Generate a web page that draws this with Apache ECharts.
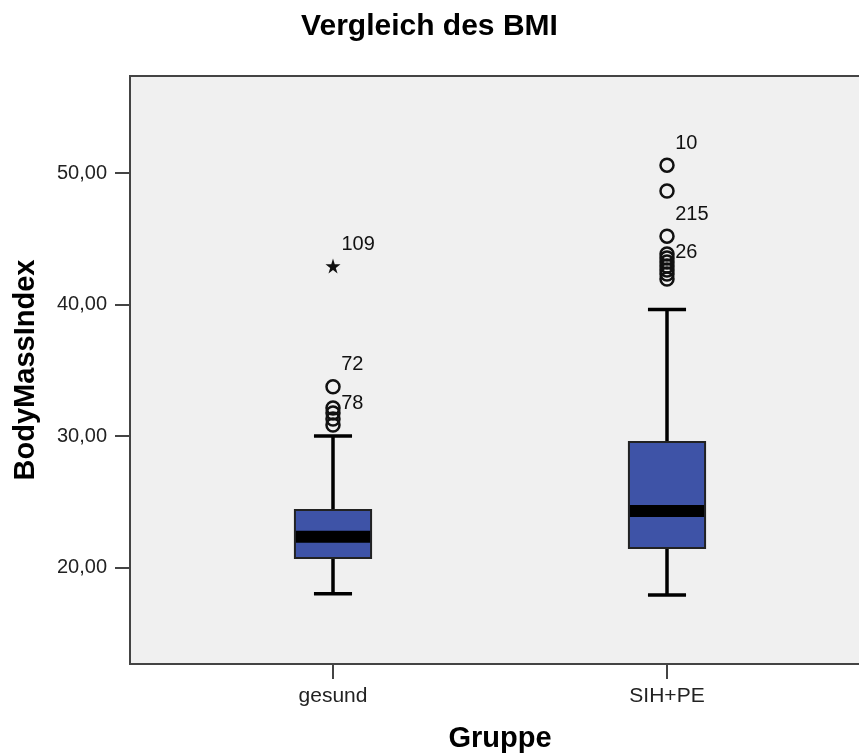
<!DOCTYPE html>
<html>
<head>
<meta charset="utf-8">
<title>Vergleich des BMI</title>
<script src="https://cdn.jsdelivr.net/npm/echarts@6/dist/echarts.min.js"></script>
<style>
  html, body { margin: 0; padding: 0; background: #fff; }
  #bmiChart { width: 859px; height: 754px; }
</style>
</head>
<body>
<div id="bmiChart"></div>
<script>
  // Gruppen und Kennwerte der Boxplots
  const groups = ['gesund', 'SIH+PE'];
  const whiskerLow = [18.0, 17.9];
  const q1 = [20.72, 21.48];
  const median = [22.34, 24.3];
  const q3 = [24.37, 29.54];
  const whiskerHigh = [30.0, 39.63];

  // Ausreisser (Kreise) und Extremwerte (Stern)
  const outliersGesund = [33.75, 32.13, 31.75, 31.29, 30.84];
  const outlierIdsGesund = ['72', '', '', '', '78'];
  const outliersSih = [50.6, 48.63, 45.2, 43.84, 43.54, 43.23, 42.93, 42.62, 42.32, 41.94];
  const outlierIdsSih = ['10', '', '215', '', '', '', '', '', '26', ''];
  const extremesGesund = [42.93];
  const extremeIdsGesund = ['109'];

  const yTicks = [20, 30, 40, 50];
  const yMin = 12.66;
  const yMax = 57.38;

  const font = "'Liberation Sans', Arial, sans-serif";
  const starPath = 'path://M50,0 L61,35 L98,35 L68,57 L79,91 L50,70 L21,91 L32,57 L2,35 L39,35 Z';

  const boxData = groups.map((g, i) => [i, whiskerLow[i], q1[i], median[i], q3[i], whiskerHigh[i]]);

  const outlierData = [];
  outliersGesund.forEach((v, i) => outlierData.push([0, v, outlierIdsGesund[i]]));
  outliersSih.forEach((v, i) => outlierData.push([1, v, outlierIdsSih[i]]));
  const extremeData = extremesGesund.map((v, i) => [0, v, extremeIdsGesund[i]]);

  const renderBox = (params, api) => {
    const x = api.value(0);
    const lo = api.coord([x, api.value(1)]);
    const b1 = api.coord([x, api.value(2)]);
    const md = api.coord([x, api.value(3)]);
    const b3 = api.coord([x, api.value(4)]);
    const hi = api.coord([x, api.value(5)]);
    const bw = api.size([1, 0])[0] * 0.228;
    const cw = bw / 2;
    const cx = lo[0];
    const lineStyle = { stroke: '#000', lineWidth: 3.5 };
    return {
      type: 'group',
      children: [
        { type: 'line', shape: { x1: cx, y1: lo[1], x2: cx, y2: b1[1] }, style: lineStyle },
        { type: 'line', shape: { x1: cx, y1: b3[1], x2: cx, y2: hi[1] }, style: lineStyle },
        { type: 'line', shape: { x1: cx - cw / 2, y1: lo[1], x2: cx + cw / 2, y2: lo[1] }, style: lineStyle },
        { type: 'line', shape: { x1: cx - cw / 2, y1: hi[1], x2: cx + cw / 2, y2: hi[1] }, style: lineStyle },
        {
          type: 'rect',
          shape: { x: cx - bw / 2, y: b3[1], width: bw, height: b1[1] - b3[1] },
          style: { fill: '#3e53a7', stroke: '#222', lineWidth: 2 }
        },
        {
          type: 'rect',
          shape: { x: cx - bw / 2 + 1, y: md[1] - 6, width: bw - 2, height: 12 },
          style: { fill: '#000' }
        }
      ]
    };
  };

  const pointLabel = {
    show: true,
    position: [16, -14],
    align: 'left',
    verticalAlign: 'middle',
    fontFamily: font,
    fontSize: 20,
    color: '#111',
    formatter: (p) => p.data[2]
  };

  const option = {
    animation: false,
    title: {
      text: 'Vergleich des BMI',
      left: 'center',
      top: 7,
      textStyle: { fontFamily: font, fontSize: 30, fontWeight: 'bold', color: '#000' }
    },
    grid: [
      {
        left: 130, right: -11, top: 76, bottom: 90, outerBoundsMode: 'none',
        show: true, backgroundColor: '#f0f0f0', borderColor: '#444', borderWidth: 2
      },
      { left: 166, right: 25, top: 76, bottom: 90, outerBoundsMode: 'none' }
    ],
    xAxis: [
      {
        gridIndex: 0, type: 'value', min: 0, max: 1,
        name: 'Gruppe', nameLocation: 'middle', nameGap: 60,
        nameTextStyle: { fontFamily: font, fontSize: 29, fontWeight: 'bold', color: '#000' },
        axisLine: { show: true, lineStyle: { color: '#444', width: 2 } },
        axisTick: { show: false }, axisLabel: { show: false }, splitLine: { show: false }
      },
      {
        gridIndex: 1, type: 'category', data: groups,
        axisLine: { show: false },
        axisTick: { show: true, alignWithLabel: true, length: 15, lineStyle: { color: '#444', width: 2 } },
        axisLabel: { margin: 22, fontFamily: font, fontSize: 21, color: '#222' },
        splitLine: { show: false }
      }
    ],
    yAxis: [
      {
        gridIndex: 0, type: 'value', min: yMin, max: yMax,
        name: 'BodyMassIndex', nameLocation: 'middle', nameGap: 90,
        nameTextStyle: { fontFamily: font, fontSize: 29, fontWeight: 'bold', color: '#000' },
        axisLine: { show: true, lineStyle: { color: '#444', width: 2 } },
        axisTick: { show: true, length: 15, customValues: yTicks, lineStyle: { color: '#444', width: 2 } },
        axisLabel: {
          margin: 23, fontFamily: font, fontSize: 20, color: '#222',
          customValues: yTicks,
          formatter: (v) => v.toFixed(2).replace('.', ',')
        },
        splitLine: { show: false }
      },
      { gridIndex: 1, type: 'value', min: yMin, max: yMax, show: false }
    ],
    series: [
      {
        type: 'custom',
        xAxisIndex: 1, yAxisIndex: 1,
        renderItem: renderBox,
        encode: { x: 0, y: [1, 2, 3, 4, 5] },
        data: boxData,
        z: 2
      },
      {
        type: 'scatter',
        xAxisIndex: 1, yAxisIndex: 1,
        symbol: 'circle', symbolSize: 13,
        itemStyle: { color: 'rgba(0,0,0,0)', borderColor: '#111', borderWidth: 2.5, opacity: 1 },
        label: pointLabel,
        data: outlierData,
        z: 3
      },
      {
        type: 'scatter',
        xAxisIndex: 1, yAxisIndex: 1,
        symbol: starPath, symbolSize: 15,
        itemStyle: { color: '#111', opacity: 1 },
        label: pointLabel,
        data: extremeData,
        z: 3
      }
    ]
  };

  const chart = echarts.init(document.getElementById('bmiChart'));
  chart.setOption(option);
</script>
</body>
</html>
